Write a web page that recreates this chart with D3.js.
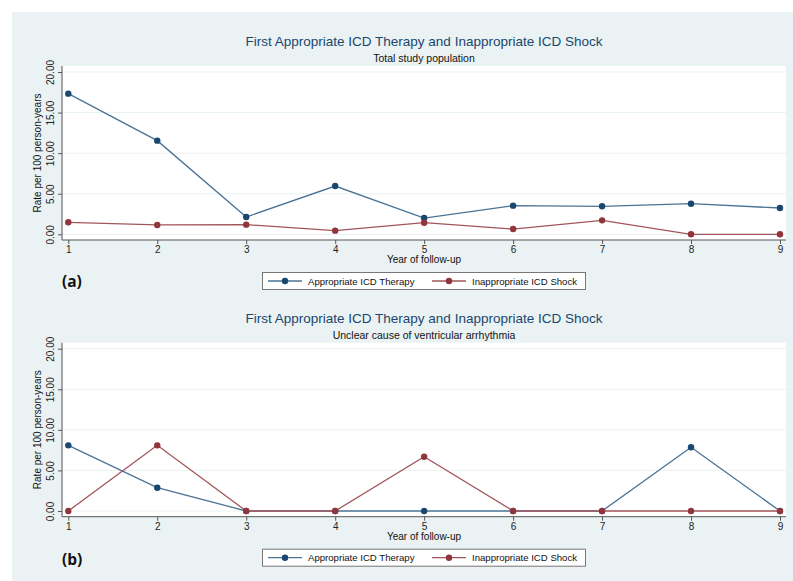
<!DOCTYPE html>
<html><head><meta charset="utf-8">
<script src="https://cdn.jsdelivr.net/npm/d3@7"></script>
<style>body{margin:0;background:#fff}svg{display:block;font-family:"Liberation Sans",Arial,sans-serif}</style>
</head><body>
<script>
const years = [1,2,3,4,5,6,7,8,9];
const yTicks = [0,5,10,15,20];
const titleText = "First Appropriate ICD Therapy and Inappropriate ICD Shock";
const subtitles = ["Total study population","Unclear cause of ventricular arrhythmia"];
const panelLabels = ["(a)","(b)"];
const seriesNames = ["Appropriate ICD Therapy","Inappropriate ICD Shock"];
const aAppropriate = [17.33,11.54,2.13,5.95,2.0,3.53,3.45,3.77,3.24];
const aInappropriate = [1.48,1.15,1.19,0.45,1.43,0.65,1.72,0,0];
const bAppropriate = [8.09,2.87,0,0,0,0,0,7.85,0];
const bInappropriate = [0,8.09,0,0,6.69,0,0,0,0];
const panels = [[aAppropriate,aInappropriate],[bAppropriate,bInappropriate]];

const W=793,H=581;
const colors=["#1a476f","#90353b"];
const lineColors=["#4a7396","#a2565b"];
const FF="Liberation Sans, Arial, sans-serif";
const svg=d3.select("body").append("svg").attr("width",W).attr("height",H);
svg.append("rect").attr("x",12).attr("y",12).attr("width",W-12).attr("height",H-12).attr("fill","#eaf2f3");

const dy=276.7;
panels.forEach((series,pi)=>{
  const g=svg.append("g").attr("transform",`translate(0,${pi*dy})`);
  const x=d3.scaleLinear().domain([1,9]).range([68.3,780]);
  const y=d3.scaleLinear().domain([0,20]).range([234.3,72]);
  g.append("rect").attr("x",62).attr("y",66).attr("width",786-62).attr("height",240-66).attr("fill","#fff");
  g.selectAll(".grid").data(yTicks).join("line")
    .attr("x1",62).attr("x2",786).attr("y1",d=>y(d)).attr("y2",d=>y(d))
    .attr("stroke","#eaf2f3").attr("stroke-width",1);
  const ya=g.append("g").attr("transform","translate(62,0)")
    .call(d3.axisLeft(y).tickValues(yTicks).tickFormat(d3.format(".2f")).tickSizeOuter(0).tickSize(4).tickPadding(3));
  ya.select(".domain").attr("d",`M0,66V240`).attr("stroke","#555");
  ya.selectAll(".tick line").attr("stroke","#555");
  ya.selectAll(".tick text").attr("transform","rotate(-90)").attr("x",0).attr("y",-8).attr("dy",0)
    .attr("text-anchor","middle").attr("font-size",10).attr("fill","#222").attr("font-family",FF);
  const xa=g.append("g").attr("transform","translate(0,240)")
    .call(d3.axisBottom(x).tickValues(years).tickFormat(d3.format("d")).tickSizeOuter(0).tickSize(4).tickPadding(3));
  xa.select(".domain").attr("d","M62,0H786").attr("stroke","#555");
  xa.selectAll(".tick line").attr("stroke","#555");
  xa.selectAll(".tick text").attr("y",13).attr("dy",0).attr("font-size",10).attr("fill","#222").attr("font-family",FF);
  g.append("text").attr("transform",`translate(41,153) rotate(-90)`).attr("text-anchor","middle")
    .attr("font-size",10).attr("fill","#111").text("Rate per 100 person-years");
  g.append("text").attr("x",424).attr("y",263).attr("text-anchor","middle").attr("font-size",10).attr("fill","#111").text("Year of follow-up");
  g.append("text").attr("x",424).attr("y",46).attr("text-anchor","middle").attr("font-size",13.5).attr("fill","#1a476f").text(titleText);
  g.append("text").attr("x",424).attr("y",62).attr("text-anchor","middle").attr("font-size",10.5).attr("fill","#111").text(subtitles[pi]);
  series.forEach((vals,si)=>{
    const line=d3.line().x((d,i)=>x(years[i])).y(d=>y(d));
    g.append("path").datum(vals).attr("d",line).attr("fill","none").attr("stroke",lineColors[si]).attr("stroke-width",1.3);
    g.selectAll(".pt"+si).data(vals).join("circle").attr("cx",(d,i)=>x(years[i])).attr("cy",d=>y(d)).attr("r",3.2).attr("fill",colors[si]);
  });
  g.append("rect").attr("x",262.5).attr("y",272.5).attr("width",323).attr("height",17).attr("fill","#fff").attr("stroke","#777").attr("stroke-width",1);
  const lx=[268,432];
  seriesNames.forEach((n,si)=>{
    g.append("line").attr("x1",lx[si]).attr("x2",lx[si]+34).attr("y1",281).attr("y2",281).attr("stroke",lineColors[si]).attr("stroke-width",1.3);
    g.append("circle").attr("cx",lx[si]+17).attr("cy",281).attr("r",3.2).attr("fill",colors[si]);
    g.append("text").attr("x",lx[si]+40).attr("y",284.5).attr("font-size",9.6).attr("fill","#111").text(n);
  });
  g.append("text").attr("x",62).attr("y",pi===0?287:288).attr("font-size",15.5).attr("font-weight","bold")
    .attr("font-family","'Open Sans','DejaVu Sans',sans-serif").attr("fill","#111").text(panelLabels[pi]);
});
</script>
</body></html>
